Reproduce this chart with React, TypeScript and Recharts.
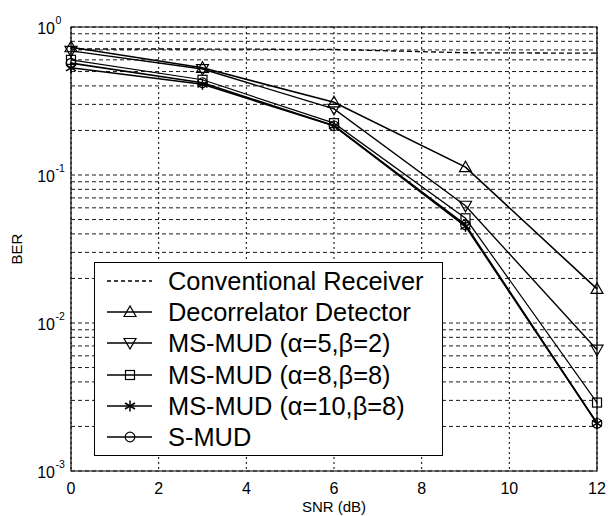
import { LineChart, Line, XAxis, YAxis, CartesianGrid, ReferenceArea, Label } from 'recharts'

const snr = [0, 3, 6, 9, 12]
const conventional = [0.71, 0.71, 0.705, 0.67, 0.665]
const decorrelator = [0.73, 0.53, 0.31, 0.113, 0.017]
const msmud52 = [0.69, 0.52, 0.28, 0.062, 0.0066]
const msmud88 = [0.6, 0.44, 0.224, 0.051, 0.0029]
const msmud108 = [0.53, 0.41, 0.215, 0.045, 0.0021]
const smud = [0.57, 0.42, 0.215, 0.046, 0.0021]

const xTicks = [0, 2, 4, 6, 8, 10, 12]
const yTicks = [
  0.001, 0.002, 0.003, 0.004, 0.005, 0.006, 0.007, 0.008, 0.009,
  0.01, 0.02, 0.03, 0.04, 0.05, 0.06, 0.07, 0.08, 0.09,
  0.1, 0.2, 0.3, 0.4, 0.5, 0.6, 0.7, 0.8, 0.9, 1,
]

const legendNames = [
  'Conventional Receiver',
  'Decorrelator Detector',
  'MS-MUD (\u03b1=5,\u03b2=2)',
  'MS-MUD (\u03b1=8,\u03b2=8)',
  'MS-MUD (\u03b1=10,\u03b2=8)',
  'S-MUD',
]

const data = snr.map((s, i) => ({
  snr: s,
  conv: conventional[i],
  dec: decorrelator[i],
  m52: msmud52[i],
  m88: msmud88[i],
  m108: msmud108[i],
  smud: smud[i],
}))

const FONT = '"Liberation Sans", Arial, sans-serif'

type Shape = 'none' | 'up' | 'down' | 'square' | 'star' | 'circle'

function Marker({ shape, cx, cy }: { shape: Shape; cx: number; cy: number }) {
  const p = { fill: 'none', stroke: '#000', strokeWidth: 1.2 }
  switch (shape) {
    case 'up':
      return <polygon points={`${cx - 6},${cy + 4.5} ${cx + 6},${cy + 4.5} ${cx},${cy - 6}`} {...p} />
    case 'down':
      return <polygon points={`${cx - 6},${cy - 4.5} ${cx + 6},${cy - 4.5} ${cx},${cy + 6}`} {...p} />
    case 'square':
      return <rect x={cx - 4.5} y={cy - 4.5} width={9} height={9} {...p} />
    case 'circle':
      return <circle cx={cx} cy={cy} r={4.8} {...p} />
    case 'star':
      return (
        <g stroke="#000" strokeWidth={1.5}>
          <line x1={cx} y1={cy - 5.5} x2={cx} y2={cy + 5.5} />
          <line x1={cx - 5} y1={cy - 3} x2={cx + 5} y2={cy + 3} />
          <line x1={cx - 5} y1={cy + 3} x2={cx + 5} y2={cy - 3} />
        </g>
      )
    default:
      return null
  }
}

const dotFor = (shape: Shape) => (props: any) => {
  const { cx, cy, index } = props
  if (cx == null || cy == null) return <g key={index} />
  return (
    <g key={index}>
      <Marker shape={shape} cx={cx} cy={cy} />
    </g>
  )
}

const YTick = (props: any) => {
  const { x, y, payload } = props
  const v = payload.value as number
  const e = Math.log10(v)
  if (Math.abs(e - Math.round(e)) > 1e-6) return <g />
  return (
    <g fontFamily={FONT} fill="#000">
      <text x={x - 16} y={y + 6.5} textAnchor="end" fontSize={16}>
        10
      </text>
      <text x={x - 15.5} y={y - 3} textAnchor="start" fontSize={10.5}>
        {Math.round(e)}
      </text>
    </g>
  )
}

const XTick = (props: any) => {
  const { x, y, payload } = props
  return (
    <text x={x} y={y + 23} textAnchor="middle" fontSize={16} fontFamily={FONT} fill="#000">
      {payload.value}
    </text>
  )
}

const legendShapes: Shape[] = ['none', 'up', 'down', 'square', 'star', 'circle']

export default function App() {
  return (
    <div style={{ position: 'absolute', left: 0, top: 0, width: 608, height: 516, background: '#fff' }}>
      <LineChart width={608} height={516} data={data} margin={{ top: 27, right: 11, bottom: 0, left: 0 }}>
        <CartesianGrid horizontal={true} vertical={false} stroke="#1a1a1a" strokeDasharray="4 3" strokeWidth={1} />
        <CartesianGrid horizontal={false} vertical={true} stroke="#000" strokeDasharray="2 3" strokeWidth={1} />
        <XAxis
          dataKey="snr"
          type="number"
          domain={[0, 12]}
          ticks={xTicks}
          height={45}
          tickLine={false}
          axisLine={false}
          tickSize={0}
          tickMargin={0}
          tick={<XTick />}
        >
          <Label
            content={() => (
              <text x={334} y={512} textAnchor="middle" fontSize={15} fontFamily={FONT} fill="#000">
                SNR (dB)
              </text>
            )}
          />
        </XAxis>
        <YAxis
          scale="log"
          domain={[0.001, 1]}
          allowDataOverflow
          ticks={yTicks}
          interval={0}
          width={71}
          tickLine={false}
          axisLine={false}
          tickSize={0}
          tickMargin={0}
          tick={<YTick />}
        >
          <Label
            content={() => (
              <text x={22} y={249} transform="rotate(-90 22 249)" textAnchor="middle" fontSize={15} fontFamily={FONT} fill="#000">
                BER
              </text>
            )}
          />
        </YAxis>
        <ReferenceArea x1={0} x2={12} y1={0.001} y2={1} fill="none" stroke="#000" strokeWidth={1.2} ifOverflow="visible" />
        <Line dataKey="conv" stroke="#000" strokeWidth={1.3} strokeDasharray="5 3" dot={false} isAnimationActive={false} />
        <Line dataKey="dec" stroke="#000" strokeWidth={1.6} dot={dotFor('up')} isAnimationActive={false} />
        <Line dataKey="m52" stroke="#000" strokeWidth={1.4} dot={dotFor('down')} isAnimationActive={false} />
        <Line dataKey="m88" stroke="#000" strokeWidth={1.2} dot={dotFor('square')} isAnimationActive={false} />
        <Line dataKey="m108" stroke="#000" strokeWidth={1.6} dot={dotFor('star')} isAnimationActive={false} />
        <Line dataKey="smud" stroke="#000" strokeWidth={1.6} dot={dotFor('circle')} isAnimationActive={false} />
      </LineChart>
      <div
        style={{
          position: 'absolute',
          left: 94,
          top: 262,
          width: 349,
          height: 194,
          boxSizing: 'border-box',
          border: '1.2px solid #000',
          background: '#fff',
          fontFamily: FONT,
          fontSize: 25.4,
          color: '#000',
        }}
      >
        {legendNames.map((name, i) => (
          <div
            key={name}
            style={{ position: 'absolute', left: 0, top: 2 + i * 31.2, height: 32, display: 'flex', alignItems: 'center', whiteSpace: 'nowrap' }}
          >
            <svg width={60} height={32} style={{ display: 'block' }}>
              <line
                x1={12}
                x2={57}
                y1={16}
                y2={16}
                stroke="#000"
                strokeWidth={1.3}
                strokeDasharray={i === 0 ? '4 3' : undefined}
              />
              <Marker shape={legendShapes[i]} cx={35} cy={16} />
            </svg>
            <span style={{ marginLeft: 13, lineHeight: '32px' }}>{name}</span>
          </div>
        ))}
      </div>
    </div>
  )
}
